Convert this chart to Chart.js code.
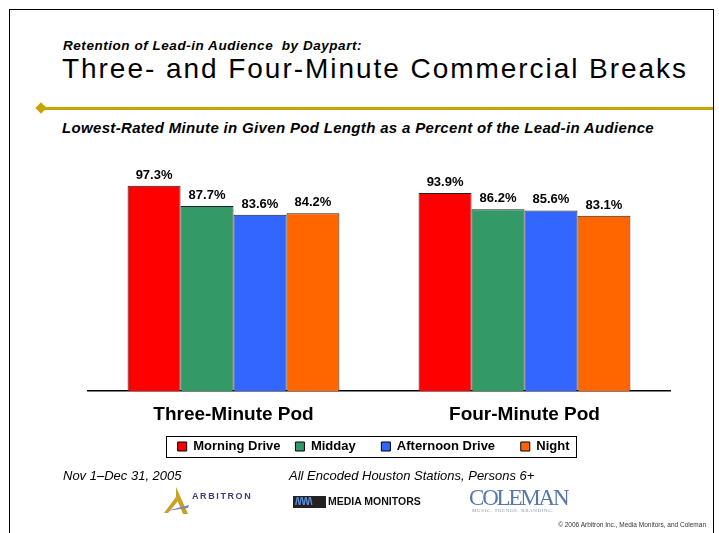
<!DOCTYPE html>
<html>
<head>
<meta charset="utf-8">
<script src="https://cdn.jsdelivr.net/npm/chart.js@4.4.1/dist/chart.umd.min.js"></script>
<style>
  html, body { margin:0; padding:0; background:#fff; width:719px; height:533px; overflow:hidden; font-family:"Liberation Sans", Arial, sans-serif; }
  #frame { position:absolute; left:9px; top:9px; width:705px; height:540px; border:1px solid #000; box-sizing:border-box; }
  .t { position:absolute; white-space:nowrap; color:#000; }
  #canvasWrap { position:absolute; left:0; top:0; width:719px; height:533px; }
  #rule { position:absolute; left:42px; top:107px; width:671px; height:3px; background:#C9A400; }
  #diamond { position:absolute; left:37px; top:104px; width:8px; height:8px; background:#C9A400; transform:rotate(45deg); }
</style>
</head>
<body>
<div id="frame"></div>
<div class="t" id="h1" style="left:63px; top:38px; font-size:13.5px; font-weight:bold; font-style:italic;">Retention of Lead-in Audience&nbsp; by Daypart:</div>
<div class="t" id="h2" style="left:62px; top:53px; font-size:28px; font-weight:normal;">Three- and Four-Minute Commercial Breaks</div>
<div id="rule"></div><div id="diamond"></div>
<div class="t" id="h3" style="left:62px; top:119px; font-size:15px; font-weight:bold; font-style:italic;">Lowest-Rated Minute in Given Pod Length as a Percent of the Lead-in Audience</div>

<div id="canvasWrap"><canvas id="c" width="719" height="533"></canvas></div>

<div class="t" style="left:63px; top:468px; font-size:13px; font-style:italic;">Nov 1–Dec 31, 2005</div>
<div class="t" style="left:289px; top:468px; font-size:13px; font-style:italic;">All Encoded Houston Stations, Persons 6+</div>

<svg style="position:absolute; left:162px; top:486px;" width="30" height="30" viewBox="0 0 30 30">
  <path d="M14 1 L26 28 L21 28 L14 11 Z" fill="#C9A020"/>
  <path d="M2 27 L14 11 L16 15 L6 27 Z" fill="#C9A020"/>
  <path d="M4 25 L27 19 L26 22 Z" fill="#7a86b8"/>
</svg>
<div class="t" style="left:192px; top:491px; font-size:9px; font-weight:bold; letter-spacing:1.6px; color:#3a3f7a;">ARBITRON</div>

<div style="position:absolute; left:293px; top:496px; width:33px; height:12px; background:#222;"></div>
<div class="t" style="left:295px; top:495px; font-size:11px; font-weight:bold; color:#5a8fd8; letter-spacing:-1px;">/\/\/\/\</div>
<div class="t" style="left:328px; top:495px; font-size:10.5px; font-weight:bold; color:#111;">MEDIA MONITORS</div>

<div class="t" style="left:469px; top:485px; font-size:23px; font-family:'Liberation Serif', serif; color:#5577aa; letter-spacing:-2.2px;">COLEMAN</div>
<div class="t" style="left:472px; top:508px; font-size:5px; font-family:'Liberation Serif', serif; color:#8899aa; letter-spacing:0.6px;">MUSIC. TRENDS. BRANDING.</div>

<div class="t" style="right:13px; top:521px; font-size:6.5px; color:#333;">© 2006 Arbitron Inc., Media Monitors, and Coleman</div>

<script>
const categories = ["Three-Minute Pod", "Four-Minute Pod"];
const seriesNames = ["Morning Drive", "Midday", "Afternoon Drive", "Night"];
const morningDrive = [97.3, 93.9];
const midday = [87.7, 86.2];
const afternoonDrive = [83.6, 85.6];
const night = [84.2, 83.1];
const colors = ["#FF0000", "#339966", "#3366FF", "#FF6600"];
// extra spacing after each legend entry (in spaces) to mimic the uneven gaps
const legendGaps = [3, 6, 6, 3];

const LEG_FONT = "bold 13px 'Liberation Sans', Arial, sans-serif";

function fitWidth(id, target) {
  const el = document.getElementById(id);
  const n = el.textContent.length;
  const w = el.getBoundingClientRect().width;
  el.style.letterSpacing = ((target - w) / n) + "px";
}
fitWidth("h1", 299);
fitWidth("h2", 626);
fitWidth("h3", 592);

const valueLabels = {
  id: "valueLabels",
  afterDatasetsDraw(chart) {
    const ctx = chart.ctx;
    ctx.save();
    ctx.font = "bold 13px 'Liberation Sans', Arial, sans-serif";
    ctx.fillStyle = "#000";
    ctx.textAlign = "center";
    ctx.textBaseline = "alphabetic";
    chart.data.datasets.forEach((ds, i) => {
      chart.getDatasetMeta(i).data.forEach((bar, j) => {
        ctx.fillText(ds.data[j].toFixed(1) + "%", bar.x, bar.y - 7);
      });
    });
    ctx.restore();
  }
};

const legendBox = {
  id: "legendBox",
  afterDraw(chart) {
    const lg = chart.legend;
    if (!lg || !lg.legendHitBoxes.length) return;
    const hb = lg.legendHitBoxes;
    const ctx = chart.ctx;
    ctx.save();
    ctx.font = LEG_FONT;
    const first = hb[0], last = hb[hb.length - 1];
    const lastText = chart.data.datasets[hb.length - 1].label;
    const l = first.left;
    const r = last.left + 9 + 6.5 + ctx.measureText(lastText).width;
    const t = first.top, b = first.top + first.height;
    ctx.strokeStyle = "#000";
    ctx.lineWidth = 1;
    ctx.strokeRect(Math.round(l - 12) + 0.5, Math.round(t - 4) + 0.5, Math.round(r - l + 18), Math.round(b - t + 8));
    ctx.restore();
  }
};

new Chart(document.getElementById("c"), {
  type: "bar",
  data: {
    labels: categories,
    datasets: [
      { label: seriesNames[0], data: morningDrive, backgroundColor: colors[0] },
      { label: seriesNames[1], data: midday, backgroundColor: colors[1] },
      { label: seriesNames[2], data: afternoonDrive, backgroundColor: colors[2] },
      { label: seriesNames[3], data: night, backgroundColor: colors[3] }
    ].map(d => Object.assign(d, { borderColor: "#222", borderWidth: 1, categoryPercentage: 0.728, barPercentage: 1 }))
  },
  options: {
    responsive: false,
    animation: false,
    devicePixelRatio: 1,
    layout: { padding: { left: 88, right: 49, top: 180, bottom: 70 } },
    scales: {
      y: { display: false, min: 0, max: 100 },
      x: {
        grid: { display: false },
        border: { display: true, color: "#000", width: 1.5 },
        ticks: { color: "#000", padding: 4, font: { family: "'Liberation Sans', Arial, sans-serif", size: 19, weight: "bold" } },
        afterFit(scale) { scale.height += 6; }
      }
    },
    plugins: {
      tooltip: { enabled: false },
      legend: {
        position: "bottom",
        labels: {
          color: "#000",
          boxWidth: 9, boxHeight: 9,
          padding: 4,
          font: { family: "'Liberation Sans', Arial, sans-serif", size: 13, weight: "bold" },
          generateLabels(chart) {
            return chart.data.datasets.map((ds, i) => ({
              text: ds.label + " ".repeat(legendGaps[i]), fillStyle: ds.backgroundColor, strokeStyle: "#000", lineWidth: 1, datasetIndex: i, hidden: false, fontColor: "#000"
            }));
          }
        }
      }
    }
  },
  plugins: [valueLabels, legendBox]
});
</script>
</body>
</html>
